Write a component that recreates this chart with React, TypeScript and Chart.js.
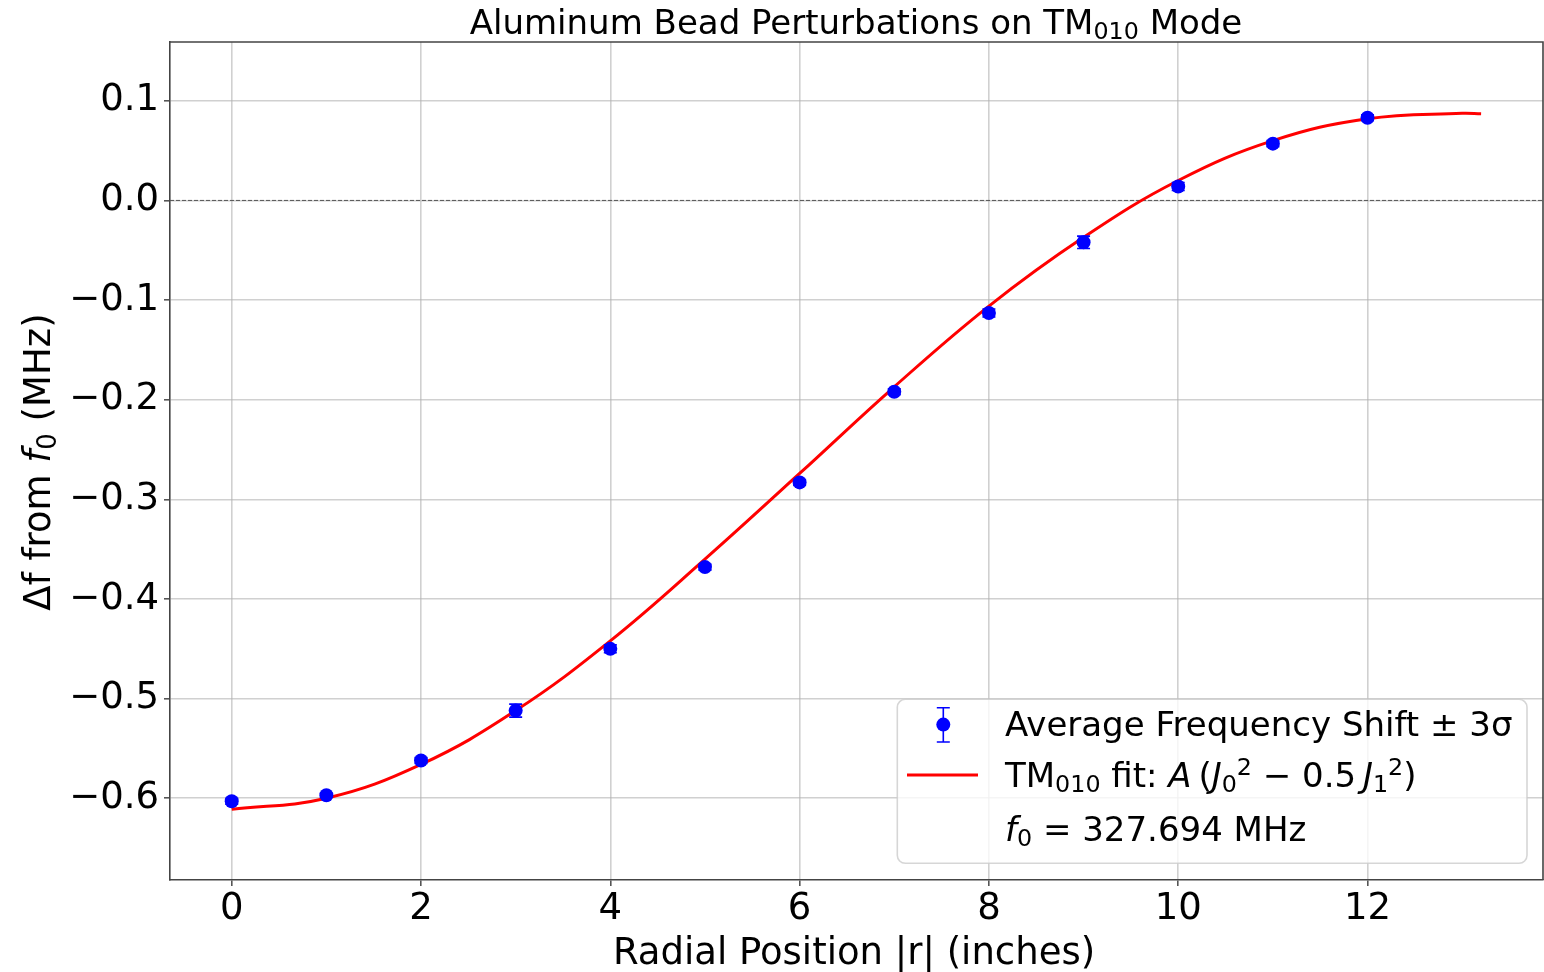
import React, { useEffect, useRef } from "react";
import { Chart, registerables } from "chart.js";

Chart.register(...registerables);

const FONT = '"DejaVu Sans", "Noto Sans", sans-serif';

// ---- data ----
const RADIUS_IN = [0, 1, 2, 3, 4, 5, 6, 7, 8, 9, 10, 11, 12];
const SHIFT_MHZ = [-0.603, -0.597, -0.562, -0.512, -0.45, -0.368, -0.283, -0.192, -0.113, -0.042, 0.014, 0.057, 0.083];
const SIGMA3_MHZ = [0.003, 0.002, 0.003, 0.0065, 0.004, 0.003, 0.003, 0.003, 0.004, 0.0062, 0.004, 0.003, 0.003];
const FIT_R = [0, 1, 2, 3, 4, 5, 6, 7, 8, 9, 10, 11, 12, 13, 13.2];
const FIT_MHZ = [-0.611, -0.6, -0.566, -0.512, -0.442, -0.36, -0.274, -0.187, -0.106, -0.037, 0.02, 0.06, 0.082, 0.0875, 0.087];
const X_TICKS = [0, 2, 4, 6, 8, 10, 12];
const Y_TICKS = [-0.6, -0.5, -0.4, -0.3, -0.2, -0.1, 0, 0.1];
const X_MIN = -0.652;
const X_MAX = 13.854;
const Y_MIN = -0.682;
const Y_MAX = 0.159;

type Seg = { t: string; it?: boolean; pos?: "sub" | "sup" };

const TITLE: Seg[] = [{ t: "Aluminum Bead Perturbations on TM" }, { t: "010", pos: "sub" }, { t: " Mode" }];
const X_LABEL: Seg[] = [{ t: "Radial Position |r| (inches)" }];
const Y_LABEL: Seg[] = [{ t: "\u0394f from " }, { t: "f", it: true }, { t: "0", pos: "sub" }, { t: " (MHz)" }];
const LEGEND_DATA: Seg[] = [{ t: "Average Frequency Shift \u00b1 3\u03c3" }];
const LEGEND_FIT: Seg[] = [
  { t: "TM" },
  { t: "010", pos: "sub" },
  { t: " fit: " },
  { t: "A", it: true },
  { t: "\u2009(" },
  { t: "J", it: true },
  { t: "0", pos: "sub" },
  { t: "2", pos: "sup" },
  { t: " \u2212 0.5\u2009" },
  { t: "J", it: true },
  { t: "1", pos: "sub" },
  { t: "2", pos: "sup" },
  { t: ")" },
];
const LEGEND_F0: Seg[] = [{ t: "f", it: true }, { t: "0", pos: "sub" }, { t: " = 327.694 MHz" }];

function drawRich(ctx: CanvasRenderingContext2D, segs: Seg[], x: number, y: number, size: number, align: "left" | "center") {
  const font = (s: Seg) => `${s.it ? "italic " : ""}${s.pos ? size * 0.7 : size}px ${FONT}`;
  let w = 0;
  const widths = segs.map((s) => {
    ctx.font = font(s);
    const m = ctx.measureText(s.t).width;
    w += m;
    return m;
  });
  let cx = align === "center" ? x - w / 2 : x;
  ctx.textAlign = "left";
  ctx.textBaseline = "alphabetic";
  ctx.fillStyle = "#000";
  segs.forEach((s, i) => {
    ctx.font = font(s);
    const dy = s.pos === "sub" ? size * 0.16 : s.pos === "sup" ? -size * 0.34 : 0;
    ctx.fillText(s.t, cx, y + dy);
    cx += widths[i];
  });
}

const decorPlugin = {
  id: "decor",
  beforeDatasetsDraw(chart: any) {
    const { ctx, chartArea, scales } = chart;
    const y0 = scales.y.getPixelForValue(0);
    ctx.save();
    ctx.strokeStyle = "#555";
    ctx.lineWidth = 1;
    ctx.setLineDash([4, 2]);
    ctx.beginPath();
    ctx.moveTo(chartArea.left, y0);
    ctx.lineTo(chartArea.right, y0);
    ctx.stroke();
    ctx.restore();
  },
  afterDatasetsDraw(chart: any) {
    const { ctx, scales } = chart;
    ctx.save();
    ctx.strokeStyle = "#0000ff";
    ctx.lineWidth = 1.6;
    RADIUS_IN.forEach((r, i) => {
      const px = scales.x.getPixelForValue(r);
      const yt = scales.y.getPixelForValue(SHIFT_MHZ[i] + SIGMA3_MHZ[i]);
      const yb = scales.y.getPixelForValue(SHIFT_MHZ[i] - SIGMA3_MHZ[i]);
      ctx.beginPath();
      ctx.moveTo(px, yt);
      ctx.lineTo(px, yb);
      ctx.moveTo(px - 6.5, yt);
      ctx.lineTo(px + 6.5, yt);
      ctx.moveTo(px - 6.5, yb);
      ctx.lineTo(px + 6.5, yb);
      ctx.stroke();
    });
    ctx.restore();
  },
  afterDraw(chart: any) {
    const { ctx, chartArea } = chart;
    ctx.save();
    // frame (top & right spines)
    ctx.strokeStyle = "#444";
    ctx.lineWidth = 1.6;
    ctx.beginPath();
    ctx.moveTo(chartArea.left, chartArea.top);
    ctx.lineTo(chartArea.right, chartArea.top);
    ctx.lineTo(chartArea.right, chartArea.bottom);
    ctx.stroke();

    // title & axis labels
    drawRich(ctx, TITLE, 856, 34, 34, "center");
    drawRich(ctx, X_LABEL, 854, 964, 37, "center");
    ctx.save();
    ctx.translate(50, 462);
    ctx.rotate(-Math.PI / 2);
    drawRich(ctx, Y_LABEL, 0, 0, 37, "center");
    ctx.restore();

    // legend
    const bx = 897.3, by = 699.3, bw = 1527 - 897.3, bh = 863.3 - 699.3;
    ctx.beginPath();
    (ctx as any).roundRect(bx, by, bw, bh, 8);
    ctx.fillStyle = "rgba(255,255,255,0.8)";
    ctx.fill();
    ctx.strokeStyle = "rgba(204,204,204,0.8)";
    ctx.lineWidth = 1.6;
    ctx.stroke();

    // errorbar handle
    ctx.strokeStyle = "#0000ff";
    ctx.lineWidth = 1.6;
    ctx.beginPath();
    ctx.moveTo(943.3, 707.7);
    ctx.lineTo(943.3, 742);
    ctx.moveTo(936.8, 707.7);
    ctx.lineTo(949.8, 707.7);
    ctx.moveTo(936.8, 742);
    ctx.lineTo(949.8, 742);
    ctx.stroke();
    ctx.fillStyle = "#0000ff";
    ctx.beginPath();
    ctx.arc(943.3, 724.6, 7, 0, Math.PI * 2);
    ctx.fill();

    // line handle
    ctx.strokeStyle = "#ff0000";
    ctx.lineWidth = 3;
    ctx.beginPath();
    ctx.moveTo(907, 775);
    ctx.lineTo(978, 775);
    ctx.stroke();

    drawRich(ctx, LEGEND_DATA, 1005, 736, 34, "left");
    drawRich(ctx, LEGEND_FIT, 1005, 787, 34, "left");
    drawRich(ctx, LEGEND_F0, 1005, 841, 34, "left");
    ctx.restore();
  },
};

function fmtY(v: number): string {
  const r = Math.round(v * 10) / 10;
  if (Math.abs(r) < 1e-9) return "0.0";
  return (r < 0 ? "\u2212" : "") + Math.abs(r).toFixed(1);
}

export default function App() {
  const ref = useRef<HTMLCanvasElement>(null);
  useEffect(() => {
    const chart = new Chart(ref.current as HTMLCanvasElement, {
      type: "scatter",
      data: {
        datasets: [
          {
            label: "Average Frequency Shift",
            data: RADIUS_IN.map((x, i) => ({ x, y: SHIFT_MHZ[i] })),
            pointRadius: 7,
            pointHoverRadius: 7,
            backgroundColor: "#0000ff",
            borderWidth: 0,
            showLine: false,
          },
          {
            label: "TM010 fit",
            data: FIT_R.map((x, i) => ({ x, y: FIT_MHZ[i] })),
            showLine: true,
            borderColor: "#ff0000",
            borderWidth: 3,
            pointRadius: 0,
            pointHoverRadius: 0,
            tension: 0.4,
            fill: false,
          } as any,
        ],
      },
      options: {
        animation: false,
        responsive: false,
        devicePixelRatio: 1,
        events: [],
        layout: { autoPadding: false, padding: { top: 42, right: 1, left: 0, bottom: 0 } },
        plugins: {
          legend: { display: false },
          title: { display: false },
          tooltip: { enabled: false },
        },
        scales: {
          x: {
            type: "linear",
            min: X_MIN,
            max: X_MAX,
            afterBuildTicks: (s: any) => {
              s.ticks = X_TICKS.map((v) => ({ value: v }));
            },
            afterFit: (s: any) => {
              s.height = 92;
            },
            ticks: {
              font: { family: FONT, size: 37 },
              color: "#000",
              padding: 1,
              maxRotation: 0,
              autoSkip: false,
              callback: (v: any) => String(v),
            },
            grid: {
              color: "rgba(176,176,176,0.6)",
              lineWidth: 1.6,
              tickColor: "#555",
              tickLength: 6,
              tickWidth: 1.6,
            },
            border: { color: "#444", width: 1.6 },
          },
          y: {
            type: "linear",
            min: Y_MIN,
            max: Y_MAX,
            afterBuildTicks: (s: any) => {
              s.ticks = Y_TICKS.map((v) => ({ value: v }));
            },
            afterFit: (s: any) => {
              s.width = 170;
            },
            ticks: {
              font: { family: FONT, size: 37 },
              color: "#000",
              padding: 5,
              autoSkip: false,
              callback: (v: any) => fmtY(Number(v)),
            },
            grid: {
              color: "rgba(176,176,176,0.6)",
              lineWidth: 1.6,
              tickColor: "#555",
              tickLength: 6,
              tickWidth: 1.6,
            },
            border: { color: "#444", width: 1.6 },
          },
        },
      },
      plugins: [decorPlugin],
    });
    return () => chart.destroy();
  }, []);
  return (
    <div style={{ position: "absolute", left: 0, top: 0, width: 1544, height: 972, background: "#fff" }}>
      <canvas ref={ref} width={1544} height={972} style={{ display: "block", width: 1544, height: 972 }} />
    </div>
  );
}
